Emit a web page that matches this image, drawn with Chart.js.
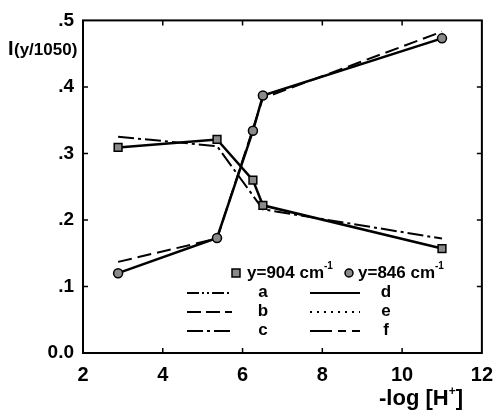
<!DOCTYPE html>
<html>
<head>
<meta charset="utf-8">
<script src="https://cdn.jsdelivr.net/npm/chart.js@4.4.8/dist/chart.umd.min.js"></script>
<style>
  html, body { margin: 0; padding: 0; background: #fff; }
  canvas { display: block; }
</style>
</head>
<body>
<canvas id="c" width="503" height="410"></canvas>
<script>
/*  Data  */

const pH = [2.88, 5.36, 6.26, 6.51, 11.0];
const band904 = [0.309, 0.321, 0.260, 0.222, 0.157];
const band846 = [0.120, 0.173, 0.334, 0.387, 0.473];

const fitX = [2.88, 5.36, 6.51, 11.0];
const fit904 = [0.325, 0.311, 0.216, 0.172];
const fit846 = [0.137, 0.172, 0.383, 0.483];

const xTicks = [2, 4, 6, 8, 10, 12];
const yTicks = [0, 0.1, 0.2, 0.3, 0.4, 0.5];

const FONT = 'Liberation Sans, Arial, sans-serif';

function pts(xs, ys) {
    return xs.map((x, i) => ({ x: x, y: ys[i] }));
}

/*  Frame, inward ticks, axis titles and key  */

const framePlugin = {
    id: 'frame',
    afterDatasetsDraw(chart) {
        const ctx = chart.ctx;
        const a = chart.chartArea;
        const sx = chart.scales.x, sy = chart.scales.y;
        ctx.save();
        ctx.strokeStyle = '#000';
        ctx.lineWidth = 2;
        ctx.strokeRect(a.left, a.top, a.right - a.left, a.bottom - a.top);

        ctx.lineWidth = 1.5;
        ctx.beginPath();
        xTicks.slice(1, -1).forEach(v => {
            const px = sx.getPixelForValue(v);
            ctx.moveTo(px, a.bottom); ctx.lineTo(px, a.bottom - 5);
            ctx.moveTo(px, a.top); ctx.lineTo(px, a.top + 5);
        });
        yTicks.slice(1, -1).forEach(v => {
            const py = sy.getPixelForValue(v);
            ctx.moveTo(a.left, py); ctx.lineTo(a.left + 5, py);
            ctx.moveTo(a.right, py); ctx.lineTo(a.right - 5, py);
        });
        ctx.stroke();

        // axis titles
        ctx.fillStyle = '#000';
        ctx.textBaseline = 'alphabetic';
        ctx.textAlign = 'left';
        ctx.font = 'bold 20px ' + FONT;
        ctx.fillText('I', 8, 55);
        ctx.font = 'bold 17px ' + FONT;
        ctx.fillText('(y/1050)', 14, 55);

        ctx.font = 'bold 22px ' + FONT;
        const t1 = '-log [H';
        const tx = 379, tb = 405;
        ctx.fillText(t1, tx, tb);
        const w1 = ctx.measureText(t1).width;
        ctx.font = 'bold 12px ' + FONT;
        ctx.fillText('+', tx + w1, tb - 10);
        const w2 = ctx.measureText('+').width;
        ctx.font = 'bold 22px ' + FONT;
        ctx.fillText(']', tx + w1 + w2, tb);

        // key: markers
        ctx.textBaseline = 'middle';
        const ky = 273;
        ctx.fillStyle = '#8a8a8a';
        ctx.strokeStyle = '#000';
        ctx.lineWidth = 1.5;
        ctx.fillRect(232, ky - 4, 8, 8);
        ctx.strokeRect(232, ky - 4, 8, 8);
        ctx.beginPath();
        ctx.arc(349, ky, 4, 0, Math.PI * 2);
        ctx.fill(); ctx.stroke();
        ctx.fillStyle = '#000';
        const drawLabel = (txt, x) => {
            ctx.font = 'bold 17px ' + FONT;
            ctx.fillText(txt, x, ky);
            const w = ctx.measureText(txt).width;
            ctx.font = 'bold 10px ' + FONT;
            ctx.fillText('-1', x + w, ky - 7);
        };
        drawLabel('y=904 cm', 247);
        drawLabel('y=846 cm', 358);

        // key: line styles
        const rows = [
            [[187, 232, [12, 3, 2, 3, 2, 3], 'a'], [310, 360, [], 'd']],
            [[187, 232, [14, 5], 'b'], [310, 360, [2, 5], 'e']],
            [[187, 232, [16, 4, 3, 4], 'c'], [310, 360, [22, 6, 8, 6], 'f']]
        ];
        const rowY = [293, 312, 331];
        ctx.lineWidth = 2;
        ctx.font = 'bold 17px ' + FONT;
        ctx.textAlign = 'center';
        rows.forEach((row, r) => {
            row.forEach((item, k) => {
                ctx.setLineDash(item[2]);
                ctx.beginPath();
                ctx.moveTo(item[0], rowY[r]);
                ctx.lineTo(item[1], rowY[r]);
                ctx.stroke();
                ctx.setLineDash([]);
                ctx.fillText(item[3], k === 0 ? 263 : 386, rowY[r] - 1);
            });
        });
        ctx.restore();
    }
};

/*  Chart  */

new Chart(document.getElementById('c').getContext('2d'), {
    type: 'scatter',
    data: {
        datasets: [
            {
                label: 'c',
                data: pts(fitX, fit904),
                showLine: true,
                borderColor: '#000',
                borderWidth: 2,
                borderDash: [16, 4, 3, 4],
                pointRadius: 0,
                order: 3
            },
            {
                label: 'b',
                data: pts(fitX, fit846),
                showLine: true,
                borderColor: '#000',
                borderWidth: 2,
                borderDash: [14, 6],
                pointRadius: 0,
                order: 3
            },
            {
                label: 'y=904',
                data: pts(pH, band904),
                showLine: true,
                borderColor: '#000',
                borderWidth: 2.5,
                pointStyle: 'rect',
                pointRadius: 5.5,
                pointBackgroundColor: '#8a8a8a',
                pointBorderColor: '#000',
                pointBorderWidth: 1.5,
                order: 1
            },
            {
                label: 'y=846',
                data: pts(pH, band846),
                showLine: true,
                borderColor: '#000',
                borderWidth: 2.5,
                pointStyle: 'circle',
                pointRadius: 4.5,
                pointBackgroundColor: '#8a8a8a',
                pointBorderColor: '#000',
                pointBorderWidth: 1.5,
                order: 1
            }
        ]
    },
    options: {
        responsive: false,
        animation: false,
        layout: { padding: { top: 19, right: 12, left: 0, bottom: 0 } },
        plugins: { legend: { display: false }, tooltip: { enabled: false } },
        scales: {
            x: {
                type: 'linear',
                min: 2, max: 12,
                afterFit: s => { s.height = 57; },
                grid: { display: false, drawTicks: false },
                border: { display: false },
                ticks: {
                    stepSize: 2,
                    padding: 10,
                    color: '#000',
                    font: { family: FONT, size: 20, weight: 'bold' }
                }
            },
            y: {
                min: 0, max: 0.5,
                afterFit: s => { s.width = 83; },
                grid: { display: false, drawTicks: false },
                border: { display: false },
                ticks: {
                    stepSize: 0.1,
                    padding: 9,
                    color: '#000',
                    font: { family: FONT, size: 19, weight: 'bold' },
                    callback: v => v === 0 ? '0.0' : v.toFixed(1).replace(/^0/, '')
                }
            }
        }
    },
    plugins: [framePlugin]
});
</script>
</body>
</html>
